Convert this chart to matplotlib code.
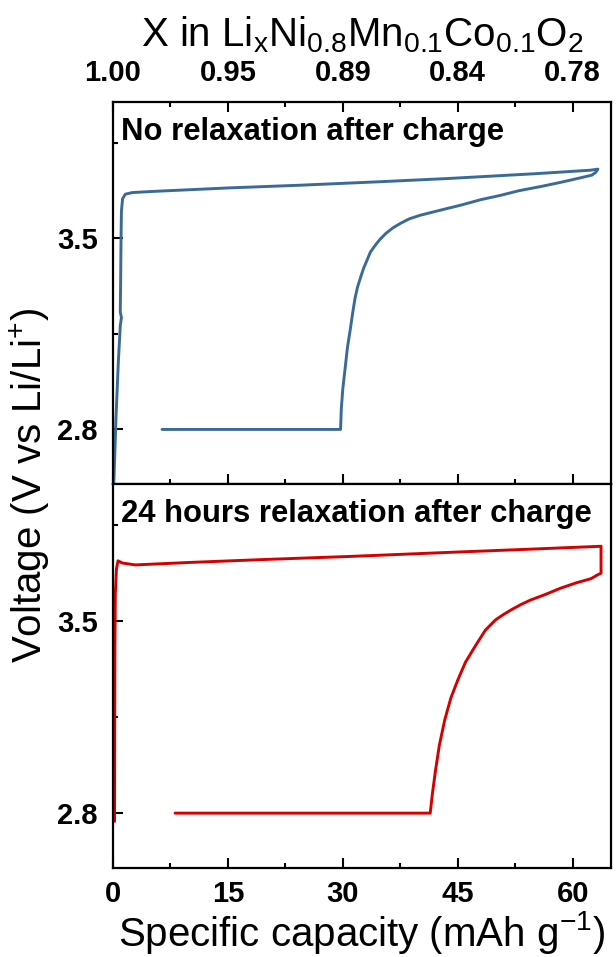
import matplotlib
matplotlib.use("Agg")
import matplotlib.pyplot as plt
from matplotlib.ticker import MultipleLocator, FixedLocator

plt.rcParams["font.family"] = ["Liberation Sans", "DejaVu Sans"]
plt.rcParams["mathtext.fontset"] = "custom"
plt.rcParams["mathtext.rm"] = "Liberation Sans"
plt.rcParams["mathtext.it"] = "Liberation Sans"
plt.rcParams["mathtext.default"] = "regular"

# Galvanostatic curve without rest after charge (capacity in mAh/g, voltage in V)
cap_norelax = [0.0, 0.13, 0.4, 0.7, 0.95, 1.1, 0.95, 1.0, 1.05, 1.1, 1.25, 1.6, 2.5, 5.0,
               15.0, 24.4, 35.0, 44.0, 55.0, 62.3, 63.3,
               63.0, 62.5, 61.0, 58.5, 55.8, 53.0, 50.6, 48.0, 45.4, 42.8, 40.1, 38.7,
               37.5, 36.5, 35.6, 34.8, 34.2, 33.6, 33.2, 32.7, 32.3, 31.9, 31.6, 31.3,
               31.0, 30.6, 30.3, 30.0, 29.8, 29.7, 6.4]
v_norelax = [2.55, 2.62, 2.85, 3.05, 3.18, 3.21, 3.23, 3.35, 3.50, 3.60, 3.645, 3.662, 3.668,
             3.672, 3.685, 3.695, 3.708, 3.72, 3.737, 3.75, 3.754,
             3.742, 3.732, 3.722, 3.706, 3.69, 3.675, 3.658, 3.642, 3.622, 3.604, 3.585,
             3.572, 3.555, 3.538, 3.518, 3.495, 3.474, 3.45, 3.423, 3.39, 3.356, 3.32,
             3.282, 3.23, 3.172, 3.10, 3.025, 2.95, 2.877, 2.80, 2.80]

# Galvanostatic curve with 24 h rest after charge
cap_relax = [0.2, 0.22, 0.25, 0.3, 0.45, 0.65, 1.2, 2.9, 10.0, 20.0, 31.0, 45.0, 55.0, 63.7,
             63.7, 63.2, 62.4, 60.5, 58.4, 56.5, 54.5, 53.2, 51.9, 50.9, 49.9, 48.6, 47.3,
             46.0, 45.0, 44.1, 43.3, 42.6, 42.1, 41.7, 41.4, 8.1]
v_relax = [2.77, 3.10, 3.40, 3.60, 3.69, 3.72, 3.712, 3.705, 3.714, 3.725, 3.736, 3.752,
           3.763, 3.773,
           3.675, 3.668, 3.655, 3.64, 3.62, 3.598, 3.577, 3.56, 3.54, 3.523, 3.504, 3.467,
           3.41, 3.35, 3.285, 3.22, 3.14, 3.048, 2.957, 2.873, 2.80, 2.80]

# Capacity ticks and corresponding lithium content x
cap_ticks = [0, 15, 30, 45, 60]
li_content = ["1.00", "0.95", "0.89", "0.84", "0.78"]
volt_ticks = [2.8, 3.5]
panel_titles = ["No relaxation after charge", "24 hours relaxation after charge"]
colors = ["#3a6a98", "#d40000"]

fig = plt.figure(figsize=(6.16, 9.57), dpi=100)
left, right = 113 / 616, 611 / 616
ax1 = fig.add_axes([left, 1 - 484 / 957, right - left, (484 - 102) / 957])
ax2 = fig.add_axes([left, 1 - 868 / 957, right - left, (868 - 484) / 957])

for ax, cap, v, title, c in zip((ax1, ax2), (cap_norelax, cap_relax), (v_norelax, v_relax),
                                panel_titles, colors):
    ax.plot(cap, v, color=c, lw=2.1, solid_joinstyle="round", solid_capstyle="round")
    ax.set_ylim(2.6, 4.0)
    ax.set_xlim(0, 65)
    ax.yaxis.set_major_locator(FixedLocator(volt_ticks))
    ax.yaxis.set_minor_locator(FixedLocator([3.15, 3.85]))
    ax.xaxis.set_major_locator(FixedLocator(cap_ticks))
    ax.xaxis.set_minor_locator(MultipleLocator(7.5))
    ax.tick_params(which="both", direction="in", width=1.5)
    ax.tick_params(which="major", length=7)
    ax.tick_params(which="minor", length=3.5)
    ax.tick_params(axis="y", labelsize=21, pad=11)
    ax.set_yticklabels([f"{t:.1f}" for t in volt_ticks], fontweight="bold")
    for s in ax.spines.values():
        s.set_linewidth(1.6)
    ax.text(0.016, 0.922, title, transform=ax.transAxes, fontsize=22.3, fontweight="bold",
            va="center", ha="left")

# Top panel: lithium content on the top axis
ax1.tick_params(axis="x", which="both", top=True, bottom=True, labeltop=True,
                labelbottom=False, labelsize=21, pad=11)
ax1.set_xticklabels(li_content, fontweight="bold")
ax1.xaxis.set_label_position("top")
ax1.set_xlabel(r"X in Li$_x$Ni$_{0.8}$Mn$_{0.1}$Co$_{0.1}$O$_2$", fontsize=29, labelpad=9)

# Bottom panel: capacity axis
ax2.tick_params(axis="x", which="both", top=False, bottom=True, labelsize=21, pad=8.5)
ax2.set_xticklabels([str(t) for t in cap_ticks], fontweight="bold")
ax2.set_xlabel(r"Specific capacity (mAh g$^{-1}$)", fontsize=29, labelpad=0.5)

fig.text(0.048, 1 - 485 / 957, r"Voltage (V vs Li/Li$^{+}$)", rotation=90, fontsize=29,
         va="center", ha="center")

fig.savefig("out.png", dpi=100)
